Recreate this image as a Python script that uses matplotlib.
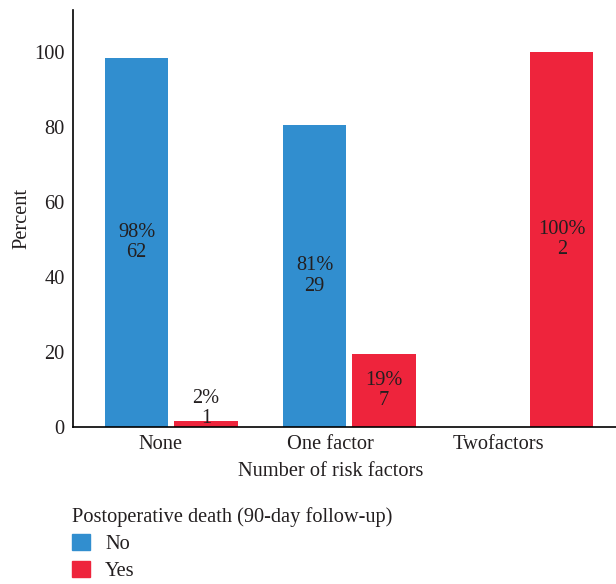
import matplotlib
matplotlib.use("Agg")
import matplotlib.pyplot as plt
import numpy as np
from matplotlib.patches import Patch

# data
groups = ["None", "One factor", "Twofactors"]
no_counts = [62, 29, 0]
yes_counts = [1, 7, 2]
no_pct = [98.4, 80.6, 0.0]
yes_pct = [1.6, 19.4, 100.0]
no_lbl = ["98%", "81%", ""]
yes_lbl = ["2%", "19%", "100%"]

blue = "#318ecf"
red = "#ee243c"
txt = "#231f20"
fs = 14.7

plt.rcParams['font.family'] = ['Liberation Serif', 'DejaVu Serif']
plt.rcParams['font.size'] = fs

fig = plt.figure(figsize=(6.16, 5.84), dpi=100)
ax = fig.add_axes([73/616, 1 - 427/584, 1 - 73/616, 417/584])

x = np.arange(len(groups))
w = 0.355
off = 0.195

for i in range(len(groups)):
    if no_counts[i] > 0:
        ax.bar(x[i] - off, no_pct[i], w, color=blue)
        ax.text(x[i] - off, max(no_pct[i] / 2, 5), no_lbl[i] + "\n" + str(no_counts[i]),
                ha="center", va="center", color=txt, linespacing=1.1)
    if yes_counts[i] > 0:
        ax.bar(x[i] + off, yes_pct[i], w, color=red)
        ax.text(x[i] + off, max(yes_pct[i] / 2, 5), yes_lbl[i] + "\n" + str(yes_counts[i]),
                ha="center", va="center", color=txt, linespacing=1.1)

ax.set_xlim(-0.552, 2.499)
ax.set_ylim(0, 111.2)
ax.set_yticks([0, 20, 40, 60, 80, 100])
ax.set_xticks(x + np.array([-0.058, -0.108, -0.164]))
ax.set_xticklabels(groups)
ax.tick_params(length=0, colors=txt, labelsize=fs)
ax.tick_params(axis="y", pad=6)
ax.tick_params(axis="x", pad=5.5)
for s in ["top", "right"]:
    ax.spines[s].set_visible(False)
ax.spines["left"].set_color("black")
ax.spines["bottom"].set_color("black")
ax.spines["left"].set_linewidth(1.2)
ax.spines["bottom"].set_linewidth(1.2)

ax.set_xlabel("Number of risk factors", color=txt, fontsize=fs)
ax.xaxis.set_label_coords(0.475, -0.085)
ax.set_ylabel("Percent", color=txt, fontsize=fs)
ax.yaxis.set_label_coords(-0.076, 0.5)

handles = [Patch(color=blue, label="No"), Patch(color=red, label="Yes")]
leg = fig.legend(handles=handles, loc="upper left", bbox_to_anchor=(72/616, 1 - 507/584),
                 frameon=False, title="Postoperative death (90-day follow-up)",
                 alignment="left", handlelength=0.88, handleheight=0.88,
                 handletextpad=0.75, labelspacing=0.33, borderpad=0, borderaxespad=0,
                 fontsize=fs, title_fontsize=fs)
leg.get_title().set_color(txt)
for t in leg.get_texts():
    t.set_color(txt)

fig.savefig("out.png", dpi=100)
